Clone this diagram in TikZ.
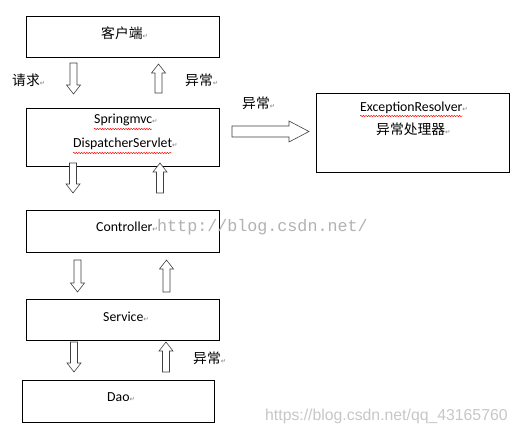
\documentclass[tikz,border=0pt]{standalone}
\usepackage{fontspec}
\setmainfont{Carlito}
\newfontfamily\cjk{Noto Sans CJK SC}
\newfontfamily\symf{DejaVu Sans}
\newfontfamily\wmmono{Liberation Mono}
\newfontfamily\wmsans{Liberation Sans}
\usetikzlibrary{decorations.pathmorphing}
\newcommand\rt{{\symf\fontsize{6.5}{6.5}\selectfont\color{gray}↵}}
\newcommand\downarr[3]{\draw[blk] (#1-3.5,#2) -- (#1+3.5,#2) -- (#1+3.5,#3-9) -- (#1+7,#3-9) -- (#1,#3) -- (#1-7,#3-9) -- (#1-3.5,#3-9) -- cycle;}
\newcommand\uparr[3]{\draw[blk] (#1-3.5,#3) -- (#1+3.5,#3) -- (#1+3.5,#2+9) -- (#1+7,#2+9) -- (#1,#2) -- (#1-7,#2+9) -- (#1-3.5,#2+9) -- cycle;}
\begin{document}
\begin{tikzpicture}[x=1pt,y=-1pt,
  box/.style={draw=black, line width=0.8pt, inner sep=0pt, anchor=north west},
  lbl/.style={anchor=west, inner sep=0pt, font=\fontsize{13.8}{15}\selectfont},
  blk/.style={draw=black!75, line width=0.6pt, fill=white},
  squig/.style={draw=red, line width=0.45pt, decorate, decoration={snake, amplitude=0.7pt, segment length=2.6pt}}]
\useasboundingbox (0,0) rectangle (517,435);
\fill[white] (0,0) rectangle (517,435);

% boxes
\node[box, minimum width=193pt, minimum height=41pt] (client) at (26,16) {};
\node[box, minimum width=193pt, minimum height=58pt] (dispatch) at (26,108) {};
\node[box, minimum width=193pt, minimum height=79pt] (resolver) at (316,93) {};
\node[box, minimum width=193pt, minimum height=42pt] (controller) at (26,210) {};
\node[box, minimum width=193pt, minimum height=41pt] (service) at (26,299) {};
\node[box, minimum width=192pt, minimum height=42pt] (dao) at (22,380) {};

% watermark 1
\node[anchor=west, inner sep=0pt, text=black!30] (wm1) at (157,227) {\wmmono\fontsize{16.7}{17}\selectfont http://blog.csdn.net/};

% texts
\node[lbl] (t1) at (101,33) {\cjk 客户端\rt};
\node[lbl] (t2) at (12,80) {\cjk 请求\rt};
\node[lbl] (t3) at (185,80) {\cjk 异常\rt};
\node[lbl] (t4) at (242,103) {\cjk 异常\rt};
\node[lbl] (t5) at (94,120) {Springmvc\rt};
\node[lbl] (t6) at (73,144) {DispatcherServlet\rt};
\node[lbl] (t7) at (360,108) {ExceptionResolver\rt};
\node[lbl] (t8) at (376,129) {\cjk 异常处理器\rt};
\node[lbl] (t9) at (96,227) {Controller\rt};
\node[lbl] (t10) at (103,317) {Service\rt};
\node[lbl] (t11) at (193,358) {\cjk 异常\rt};
\node[lbl] (t12) at (107,397) {Dao\rt};

% spell-check underlines
\draw[squig] (94,129) -- (152,129);
\draw[squig] (73,153) -- (172,153);
\draw[squig] (360,116) -- (463,116);

% block arrows
\downarr{73.5}{63}{94}
\uparr{158.5}{64}{93}
\downarr{73}{163}{193}
\uparr{160}{163}{193}
\downarr{77.5}{260}{292}
\uparr{166.5}{260}{292}
\downarr{74}{342}{372}
\uparr{166}{342}{372}
\draw[blk] (232,126) -- (289,126) -- (289,121) -- (309,131.5) -- (289,142) -- (289,137) -- (232,137) -- cycle;

% watermark 2
\node[anchor=west, inner sep=0pt, text=black!22] (wm2) at (265,416) {\wmsans\fontsize{15.8}{16}\selectfont https://blog.csdn.net/qq\_43165760};
\end{tikzpicture}
\end{document}
